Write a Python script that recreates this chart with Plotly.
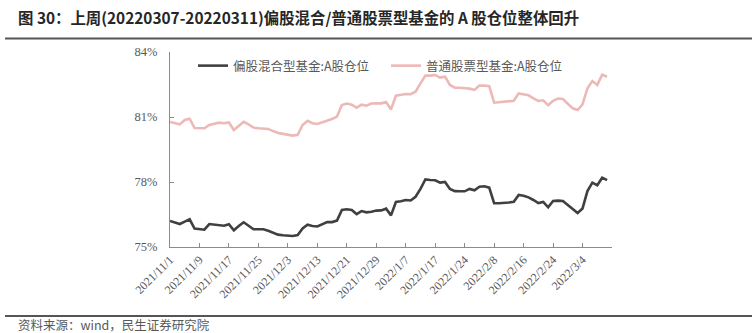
import plotly.graph_objects as go

# Tick labels shown every 6 trading days on the category axis
tick_labels = [
    "2021/11/1", "2021/11/9", "2021/11/17", "2021/11/25", "2021/12/3",
    "2021/12/13", "2021/12/21", "2021/12/29", "2022/1/7", "2022/1/17",
    "2022/1/24", "2022/2/8", "2022/2/16", "2022/2/24", "2022/3/4",
]
tick_step = 6

# 偏股混合型基金:A股仓位 (%)
hybrid_equity = [
    76.20, 76.12, 76.06, 76.17, 76.28, 75.85, 75.83, 75.80, 76.06, 76.03,
    76.02, 75.98, 76.05, 75.77, 75.97, 76.14, 75.98, 75.82, 75.82, 75.82,
    75.75, 75.65, 75.57, 75.54, 75.51, 75.51, 75.55, 75.86, 76.03, 75.97,
    75.95, 76.05, 76.15, 76.15, 76.22, 76.71, 76.74, 76.71, 76.52, 76.66,
    76.60, 76.63, 76.68, 76.69, 76.77, 76.46, 77.08, 77.11, 77.17, 77.15,
    77.32, 77.68, 78.12, 78.09, 78.08, 77.97, 78.00, 77.68, 77.58, 77.57,
    77.57, 77.68, 77.62, 77.78, 77.80, 77.74, 77.02, 77.02, 77.03, 77.05,
    77.09, 77.40, 77.37, 77.29, 77.17, 77.03, 77.08, 76.83, 77.12, 77.14,
    77.12, 76.95, 76.75, 76.57, 76.78, 77.58, 77.97, 77.85, 78.20, 78.09,
]

# 普通股票型基金:A股仓位 (%)
common_stock = [
    80.77, 80.71, 80.66, 80.86, 80.92, 80.49, 80.48, 80.48, 80.63, 80.69,
    80.74, 80.71, 80.75, 80.40, 80.58, 80.78, 80.66, 80.51, 80.48, 80.48,
    80.45, 80.35, 80.26, 80.22, 80.17, 80.14, 80.18, 80.63, 80.82, 80.71,
    80.68, 80.75, 80.85, 80.91, 81.02, 81.55, 81.62, 81.57, 81.43, 81.57,
    81.52, 81.62, 81.63, 81.63, 81.69, 81.35, 81.98, 82.02, 82.06, 82.05,
    82.17, 82.55, 82.91, 82.91, 82.94, 82.82, 82.86, 82.48, 82.35, 82.35,
    82.34, 82.31, 82.25, 82.45, 82.45, 82.42, 81.66, 81.69, 81.72, 81.72,
    81.75, 82.09, 82.05, 82.00, 81.86, 81.74, 81.77, 81.54, 81.75, 81.85,
    81.83, 81.63, 81.40, 81.32, 81.58, 82.32, 82.66, 82.48, 82.95, 82.86,
]

series_names = ["偏股混合型基金:A股仓位", "普通股票型基金:A股仓位"]
series_colors = ["#404040", "#EDB9B7"]

title_text = "图 30：上周(20220307-20220311)偏股混合/普通股票型基金的 A 股仓位整体回升"
source_text = "资料来源：wind，民生证券研究院"

W, H = 752, 333
L, R, T, B = 170, 612, 52, 247  # plot area in pixels


def px_x(p):
    return (p - L) / (R - L)


def px_y(p):
    return (B - p) / (B - T)


n = len(hybrid_equity)
x_idx = list(range(n))

fig = go.Figure()
for name, vals, col in zip(series_names, [hybrid_equity, common_stock], series_colors):
    fig.add_trace(go.Scatter(
        x=x_idx, y=vals, name=name, mode="lines",
        line=dict(color=col, width=2.6),
        hovertemplate="%{y:.2f}%<extra>" + name + "</extra>",
    ))

tickvals = [i * tick_step for i in range(len(tick_labels) + 1)]
ticktext = tick_labels + [""]

axis_grey = "#8C8C8C"
label_grey = "#595959"
serif = "Liberation Serif, Times New Roman, serif"
cjk = "Noto Sans CJK SC, sans-serif"

fig.update_layout(
    width=W, height=H,
    margin=dict(l=L, r=W - R, t=T, b=H - B, pad=0),
    paper_bgcolor="white", plot_bgcolor="white",
    showlegend=True,
    legend=dict(
        orientation="h", x=px_x(193), y=px_y(51), xanchor="left", yanchor="top",
        font=dict(family=cjk, size=12.5, color=label_grey),
        bgcolor="rgba(0,0,0,0)", itemwidth=30, tracegroupgap=0,
        entrywidth=148, entrywidthmode="pixels",
    ),
    title=dict(
        text=title_text, x=18 / W, xanchor="left", xref="container",
        y=1 - 19 / H, yanchor="middle", yref="container",
        font=dict(family=cjk, size=15.4, color="#262626", weight="bold"),
    ),
    xaxis=dict(
        range=[0, tickvals[-1]], tickmode="array", tickvals=tickvals, ticktext=ticktext,
        tickangle=-45, ticks="inside", ticklen=4, tickcolor=axis_grey,
        showline=True, linecolor=axis_grey, linewidth=1, showgrid=False, zeroline=False,
        tickfont=dict(family=serif, size=12, color=label_grey),
    ),
    yaxis=dict(
        range=[75, 84], dtick=3, tick0=75, ticksuffix="%",
        ticks="inside", ticklen=4, tickcolor=axis_grey, ticklabelstandoff=9,
        showline=True, linecolor=axis_grey, linewidth=1, showgrid=False, zeroline=False,
        tickfont=dict(family=serif, size=12.5, color=label_grey),
    ),
)

# Rules under the title and above the source note
for yy in (38.5, 316):
    fig.add_shape(
        type="line", xref="paper", yref="paper",
        x0=px_x(5), x1=px_x(W), y0=px_y(yy), y1=px_y(yy),
        line=dict(color="#555555", width=2),
    )

fig.add_annotation(
    text=source_text, xref="paper", yref="paper",
    x=px_x(16), y=px_y(324.5), xanchor="left", yanchor="middle", showarrow=False,
    font=dict(family=cjk, size=12.5, color="#595959"),
)

fig.write_html("out.html")
